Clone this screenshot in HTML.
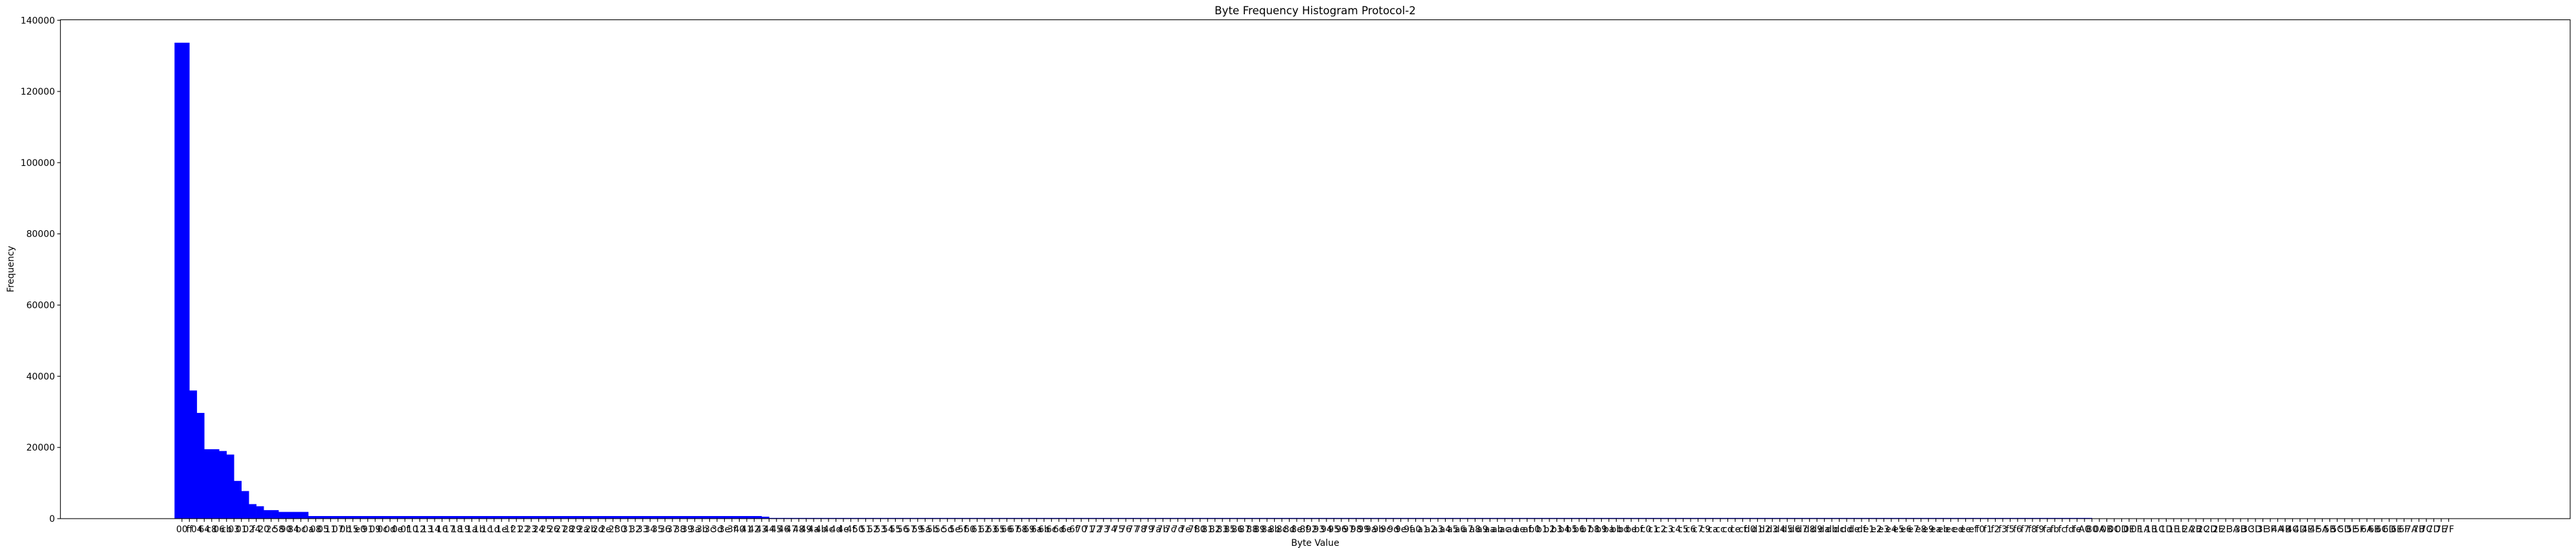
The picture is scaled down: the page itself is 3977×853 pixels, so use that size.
<!DOCTYPE html>
<html><head><meta charset="utf-8"><style>
html,body{margin:0;padding:0;background:#fff;}
svg{display:block;font-family:"DejaVu Sans","Liberation Sans",sans-serif;}
</style></head><body>
<svg id="chart" width="3977" height="853" xmlns="http://www.w3.org/2000/svg">
<rect x="0" y="0" width="3977" height="853" fill="#fff"/>
<g id="bars"></g>
<g id="xticks"></g>
<g id="yticks"></g>
<rect x="93.3" y="30.5" width="3874.7" height="769.5" fill="none" stroke="#000" stroke-width="1.1"/>
<text x="2030.5" y="22" font-size="16.7" text-anchor="middle">Byte Frequency Histogram Protocol-2</text>
<text x="2030.5" y="842" font-size="13.9" text-anchor="middle">Byte Value</text>
<text x="0" y="0" font-size="13.9" text-anchor="middle" transform="translate(21,415) rotate(-90)">Frequency</text>
</svg>
<script>
// bin heights: bin j covers category units [j-1, j]
const binHeights = [133700,133700,36000,29700,19500,19500,19000,18000,10600,7750,4080,3480,2390,2390,1890,1890,1890,1890];
const plateauValue = 730;      // bins 18..78
const stepValue = 550;         // bin 79
const tailValue = 200;         // bins 80..257
const yTickValues = [0,20000,40000,60000,80000,100000,120000,140000];
const headLabels = ["00","ff","04","64","c8","06","cb","03","01","02","f4","20","2c","58","90","84","bc","0a","08","05","11","07","0b","15","e0","91"];

const NS="http://www.w3.org/2000/svg";
const hex="0123456789abcdef";
const labels=headLabels.slice();
for(let i=0;i<256;i++){const s=hex[i>>4]+hex[i&15]; if(!labels.includes(s)) labels.push(s);}
labels.push("A0","B0");
for(let d=0;d<8;d++) for(const c of "ABCDEF") labels.push(d+c);
const N=labels.length;

const values=binHeights.slice();
for(let j=18;j<=78;j++) values.push(plateauValue);
values.push(stepValue);
for(let j=80;j<=257;j++) values.push(tailValue);
while(values.length<=N) values.push(0);

const L=93.3,R=3968,T=30.5,B=800;
const dmin=-1-0.05*(N+1), dmax=N+0.05*(N+1);
const x=u=>L+(u-dmin)/(dmax-dmin)*(R-L);
const yMax=140140;
const y=v=>B-v/yMax*(B-T);

const bars=document.getElementById('bars');
values.forEach((v,j)=>{
  if(v<=0) return;
  const r=document.createElementNS(NS,'rect');
  const x0=x(j-1),x1=x(j);
  r.setAttribute('x',x0);r.setAttribute('width',x1-x0+0.3);
  r.setAttribute('y',y(v));r.setAttribute('height',B-y(v));
  r.setAttribute('fill','#0000ff');
  
  
  bars.appendChild(r);
});

const xt=document.getElementById('xticks');
labels.forEach((lab,i)=>{
  const xx=x(i);
  const l=document.createElementNS(NS,'line');
  l.setAttribute('x1',xx);l.setAttribute('x2',xx);l.setAttribute('y1',B);l.setAttribute('y2',B+4.9);
  l.setAttribute('stroke','#000');l.setAttribute('stroke-width','1.1');
  
  
  xt.appendChild(l);
  const t=document.createElementNS(NS,'text');
  t.setAttribute('x',xx);t.setAttribute('y',821);t.setAttribute('font-size','13.9');t.setAttribute('text-anchor','middle');
  t.textContent=lab;
  
  
  xt.appendChild(t);
});

const yt=document.getElementById('yticks');
yTickValues.forEach(v=>{
  const yy=y(v);
  const l=document.createElementNS(NS,'line');
  l.setAttribute('x1',L-4.9);l.setAttribute('x2',L);l.setAttribute('y1',yy);l.setAttribute('y2',yy);
  l.setAttribute('stroke','#000');l.setAttribute('stroke-width','1.1');
  
  
  yt.appendChild(l);
  const t=document.createElementNS(NS,'text');
  t.setAttribute('x',L-8.5);t.setAttribute('y',yy+5);t.setAttribute('font-size','13.9');t.setAttribute('text-anchor','end');
  t.textContent=String(v);
  
  
  yt.appendChild(t);
});
</script>
</body></html>
